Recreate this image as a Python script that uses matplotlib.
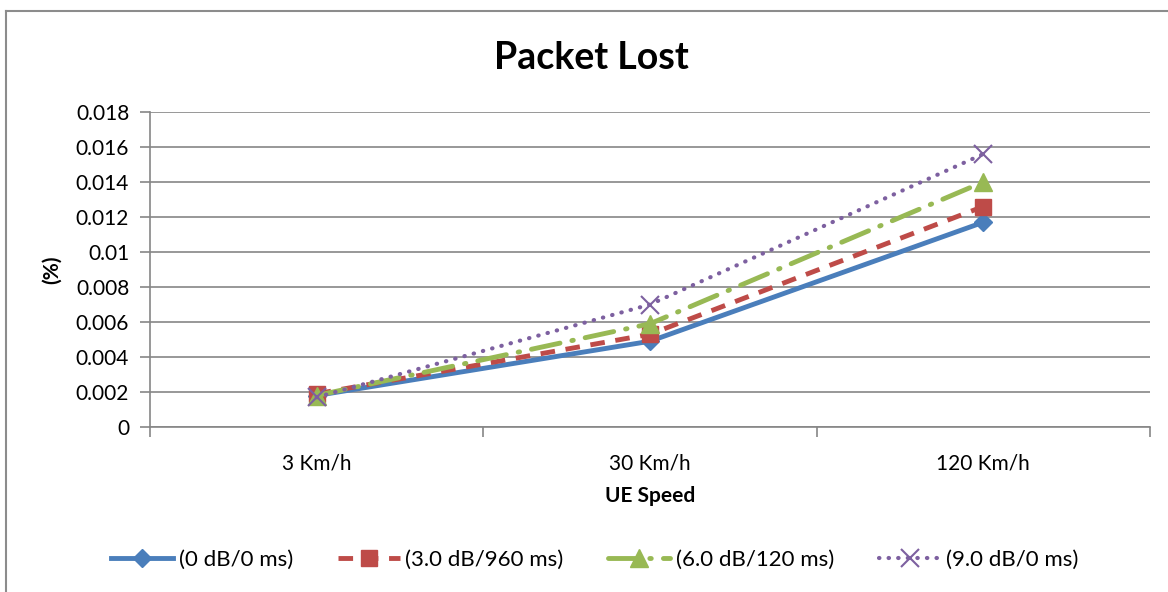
import matplotlib.pyplot as plt
from matplotlib.lines import Line2D
from matplotlib.ticker import FixedLocator

plt.rcParams['font.family'] = ['Lato', 'DejaVu Sans']

speeds = ['3 Km/h', '30 Km/h', '120 Km/h']
loss_0db = [0.0018, 0.0049, 0.0117]
loss_3db = [0.0019, 0.0053, 0.0126]
loss_6db = [0.0018, 0.0059, 0.0140]
loss_9db = [0.0017, 0.0070, 0.0156]
series_names = ['(0 dB/0 ms)', '(3.0 dB/960 ms)', '(6.0 dB/120 ms)', '(9.0 dB/0 ms)']
y_ticks = [0, 0.002, 0.004, 0.006, 0.008, 0.01, 0.012, 0.014, 0.016, 0.018]
y_labels = ['0', '0.002', '0.004', '0.006', '0.008', '0.01', '0.012', '0.014', '0.016', '0.018']

fig = plt.figure(figsize=(11.68, 5.92), dpi=100)
ax = fig.add_axes([150 / 1168, 1 - 427 / 592, 1000 / 1168, 315 / 592])

# chart frame
fig.add_artist(Line2D([6 / 1168, 6 / 1168], [0, 1 - 11 / 592], transform=fig.transFigure,
                      color='#8c8c8c', lw=1.5))
fig.add_artist(Line2D([6 / 1168, 1], [1 - 11 / 592, 1 - 11 / 592], transform=fig.transFigure,
                      color='#8c8c8c', lw=1.5))

x = range(len(speeds))
ax.plot(x, loss_0db, color='#4a7ebb', lw=3.5, marker='D', ms=9, label=series_names[0], zorder=3)
ax.plot(x, loss_3db, color='#be4b48', lw=3.5, ls=(0, (3, 2.2)), marker='s', ms=12,
        label=series_names[1], zorder=4)
ax.plot(x, loss_6db, color='#98b954', lw=3.5, ls=(0, (6, 2.5, 0.3, 2.5)), dash_capstyle='round',
        marker='^', ms=13, label=series_names[2], zorder=5)
ax.plot(x, loss_9db, color='#7d60a0', lw=3, ls=(0, (0.1, 2.2)), dash_capstyle='round',
        marker='x', ms=13, mew=1.5, label=series_names[3], zorder=6)

ax.set_xlim(-0.5, 2.5)
ax.set_ylim(0, 0.018)
ax.set_yticks(y_ticks)
ax.set_yticklabels(y_labels)
ax.set_xticks(list(x))
ax.set_xticklabels(speeds)
ax.xaxis.set_minor_locator(FixedLocator([-0.5, 0.5, 1.5, 2.5]))
ax.tick_params(axis='x', which='major', length=0, pad=19, labelsize=15)
ax.tick_params(axis='x', which='minor', length=7, color='#868686', width=1.2)
ax.tick_params(axis='y', length=7, color='#868686', width=1.2, labelsize=15, pad=8)
ax.grid(axis='y', color='#868686', lw=1.2)
ax.set_axisbelow(True)
for side in ['top', 'right']:
    ax.spines[side].set_visible(False)
for side in ['left', 'bottom']:
    ax.spines[side].set_color('#868686')
    ax.spines[side].set_linewidth(1.2)

fig.text(591 / 1168, 1 - 58 / 592, 'Packet Lost', fontsize=27, fontweight='bold',
         ha='center', va='center')
ax.set_xlabel('UE Speed', fontsize=15, fontweight='bold', labelpad=9)
ax.set_ylabel('(%)', fontsize=15, fontweight='bold', labelpad=10)

handles, labels = ax.get_legend_handles_labels()
fig.legend(handles, labels, loc='center', bbox_to_anchor=(595 / 1168, 1 - 560 / 592), ncol=4,
           frameon=False, fontsize=16, handlelength=2.8, handletextpad=0.25, columnspacing=2.0)

fig.savefig('out.png', dpi=100)
